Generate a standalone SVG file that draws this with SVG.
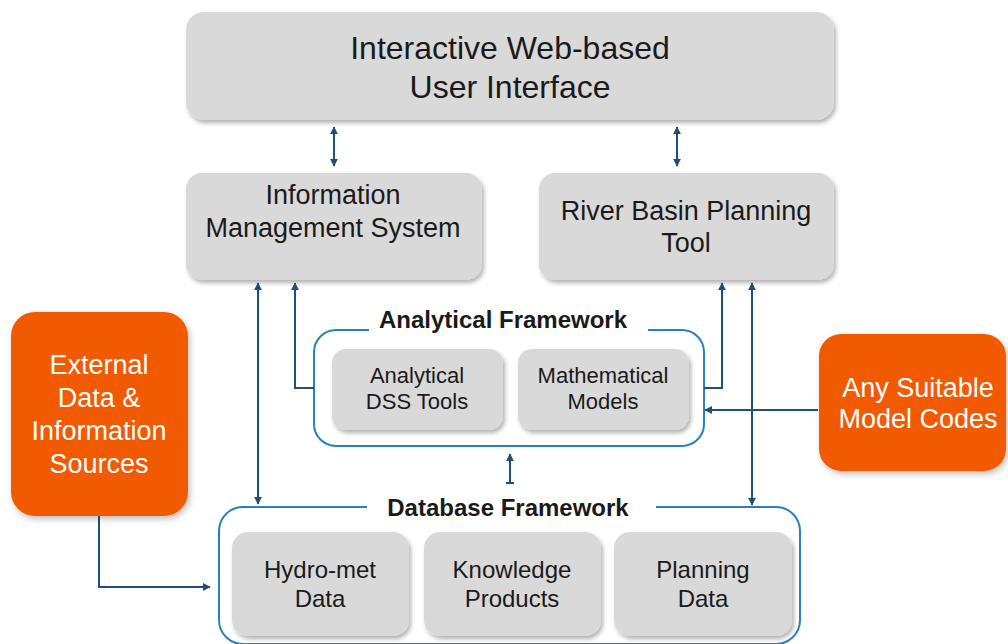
<svg xmlns="http://www.w3.org/2000/svg" width="1008" height="644" viewBox="0 0 1008 644">
<defs>
<filter id="sh" x="-10%" y="-10%" width="125%" height="130%">
<feDropShadow dx="2" dy="3" stdDeviation="2" flood-color="#000" flood-opacity="0.3"/>
</filter>
<filter id="sho" x="-10%" y="-10%" width="125%" height="130%">
<feDropShadow dx="2" dy="3" stdDeviation="3" flood-color="#000" flood-opacity="0.25"/>
</filter>
<marker id="ah" viewBox="0 0 10 10" refX="9" refY="5" markerWidth="8" markerHeight="8" markerUnits="userSpaceOnUse" orient="auto-start-reverse">
<path d="M0,0 L10,5 L0,10 z" fill="#1f4e79"/>
</marker>
<style>
.box{fill:#d9d9d9;filter:url(#sh);}
.obox{fill:#f25a00;filter:url(#sho);}
.frame{fill:none;stroke:#2a7fc1;stroke-width:2;}
.t{font-family:"Liberation Sans",Arial,sans-serif;fill:#1a1a1a;text-anchor:middle;}
.tw{font-family:"Liberation Sans",Arial,sans-serif;fill:#ffffff;text-anchor:middle;font-size:27px;}
.title{font-family:"Liberation Sans",Arial,sans-serif;font-weight:bold;fill:#1a1a1a;text-anchor:middle;font-size:24px;}
.c{fill:none;stroke:#1f4e79;stroke-width:2;}
</style>
</defs>
<rect width="1008" height="644" fill="#ffffff"/>

<g id="ui">
<rect class="box" x="186" y="12" width="648" height="108" rx="18"/>
<text class="t" x="510" y="59" font-size="32">Interactive Web-based</text>
<text class="t" x="510" y="98" font-size="32">User Interface</text>
</g>

<g id="ims">
<rect class="box" x="186" y="173" width="296" height="107" rx="16"/>
<text class="t" x="333" y="204" font-size="27">Information</text>
<text class="t" x="333" y="237" font-size="27">Management System</text>
</g>

<g id="rbpt">
<rect class="box" x="539" y="173" width="295" height="107" rx="16"/>
<text class="t" x="686" y="220" font-size="27">River Basin Planning</text>
<text class="t" x="686" y="252" font-size="27">Tool</text>
</g>

<g id="analytical-framework">
<path class="frame" d="M369 330 H336 A22 22 0 0 0 314 352 V424 A22 22 0 0 0 336 446 H682 A22 22 0 0 0 704 424 V352 A22 22 0 0 0 682 330 H648"/>
<text class="title" x="503" y="328">Analytical Framework</text>
</g>

<g id="dss-tools">
<rect class="box" x="332" y="349" width="171" height="81" rx="14"/>
<text class="t" x="417" y="383" font-size="22">Analytical</text>
<text class="t" x="417" y="409" font-size="22">DSS Tools</text>
</g>

<g id="math-models">
<rect class="box" x="518" y="349" width="171" height="81" rx="14"/>
<text class="t" x="603" y="383" font-size="22">Mathematical</text>
<text class="t" x="603" y="409" font-size="22">Models</text>
</g>

<g id="database-framework">
<path class="frame" d="M367 507 H243 A24 24 0 0 0 219 531 V620 A24 24 0 0 0 243 644 H776 A24 24 0 0 0 800 620 V531 A24 24 0 0 0 776 507 H656"/>
<text class="title" x="508" y="516">Database Framework</text>
</g>

<g id="hydromet">
<rect class="box" x="232" y="532" width="177" height="104" rx="16"/>
<text class="t" x="320" y="578" font-size="24">Hydro-met</text>
<text class="t" x="320" y="607" font-size="24">Data</text>
</g>

<g id="knowledge">
<rect class="box" x="424" y="532" width="177" height="104" rx="16"/>
<text class="t" x="512" y="578" font-size="24">Knowledge</text>
<text class="t" x="512" y="607" font-size="24">Products</text>
</g>

<g id="planning">
<rect class="box" x="614" y="532" width="178" height="104" rx="16"/>
<text class="t" x="703" y="578" font-size="24">Planning</text>
<text class="t" x="703" y="607" font-size="24">Data</text>
</g>

<g id="external">
<rect class="obox" x="11" y="312" width="177" height="204" rx="24"/>
<text class="tw" x="99" y="374">External</text>
<text class="tw" x="99" y="407">Data &amp;</text>
<text class="tw" x="99" y="440">Information</text>
<text class="tw" x="99" y="473">Sources</text>
</g>

<g id="model-codes">
<rect class="obox" x="819" y="334" width="187" height="137" rx="22"/>
<text class="tw" x="918" y="397">Any Suitable</text>
<text class="tw" x="918" y="428">Model Codes</text>
</g>

<g id="connectors">
<line class="c" x1="334" y1="127" x2="334" y2="166" marker-start="url(#ah)" marker-end="url(#ah)"/>
<line class="c" x1="677" y1="127" x2="677" y2="166" marker-start="url(#ah)" marker-end="url(#ah)"/>
<line class="c" x1="258" y1="283" x2="258" y2="504" marker-start="url(#ah)" marker-end="url(#ah)"/>
<line class="c" x1="752" y1="283" x2="752" y2="505" marker-start="url(#ah)" marker-end="url(#ah)"/>
<path class="c" d="M314 388 H295 V283" marker-end="url(#ah)"/>
<path class="c" d="M704 388 H722 V283" marker-end="url(#ah)"/>
<path class="c" d="M818 410 H705" marker-end="url(#ah)"/>
<path class="c" d="M99 516 V587 H210" marker-end="url(#ah)"/>
<path class="c" d="M510 483 V454" marker-end="url(#ah)"/>
<path class="c" d="M506 483 H514"/>
</g>
</svg>
